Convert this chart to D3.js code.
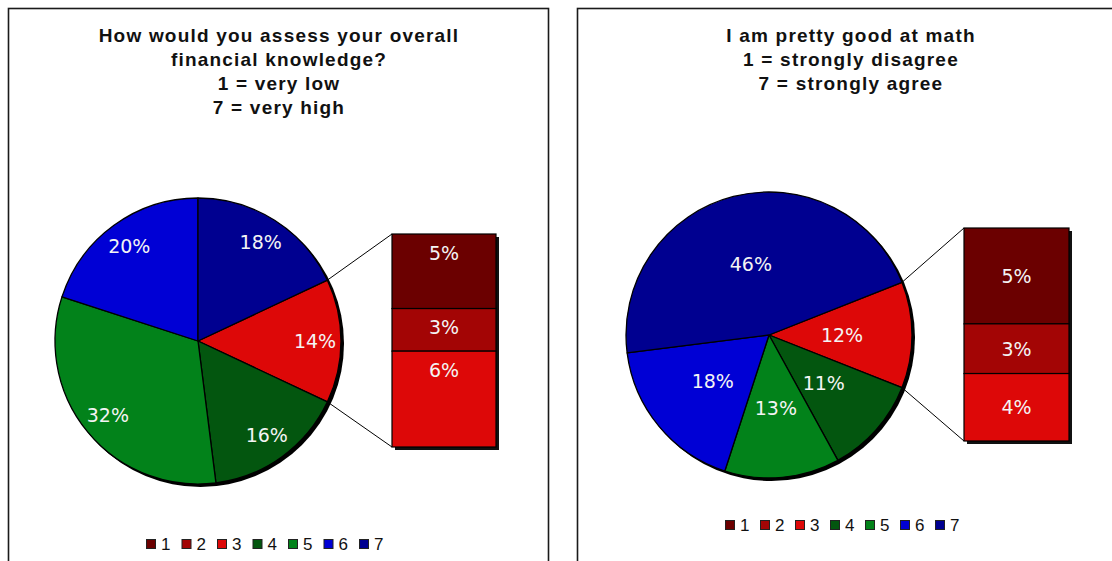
<!DOCTYPE html>
<html><head><meta charset="utf-8">
<script src="https://cdn.jsdelivr.net/npm/d3@7"></script>
<style>body{margin:0;background:#fff}svg{display:block}</style>
</head><body><svg id="c" width="1112" height="561"></svg>
<script>
// ---- data ----
const categories = ["1","2","3","4","5","6","7"];
const colors = ["#6b0000","#a30505","#dd0808","#03560f","#02821a","#0000d5","#000090"];
const knowledgeValues = [4.9, 2.8, 6.3, 16, 32, 20, 18];
const mathValues = [5.4, 2.8, 3.8, 11, 13, 18, 46];
const knowledgeTitle = ["How would you assess your overall","financial knowledge?","1 = very low","7 = very high"];
const mathTitle = ["I am pretty good at math","1 = strongly disagree","7 = strongly agree"];
const splitCount = 3; // first categories shown in the secondary stacked bar

const svg = d3.select("#c");
const fmt = v => Math.round(v) + "%";

function drawPanel(o) {
  const g = svg.append("g");
  // panel frame
  g.append("rect").attr("x", o.px).attr("y", o.py).attr("width", o.pw).attr("height", o.ph)
    .attr("fill", "#fff").attr("stroke", "#1a1a1a").attr("stroke-width", 1.6);

  // title
  g.append("g").selectAll("text").data(o.title).join("text")
    .attr("x", o.titleX).attr("y", (d, i) => o.titleY + i * 24)
    .attr("text-anchor", "middle")
    .attr("font-family", "Liberation Sans, Arial, sans-serif")
    .attr("font-weight", "bold").attr("font-size", 19).attr("letter-spacing", 1.2)
    .attr("fill", "#111").text(d => d);

  const vals = o.values;
  const otherVals = vals.slice(0, splitCount);
  const otherSum = d3.sum(otherVals);
  const pieData = [{ key: "other", value: otherSum, color: colors[splitCount - 1] }]
    .concat(vals.slice(splitCount).map((v, i) => ({ key: categories[i + splitCount], value: v, color: colors[i + splitCount] })));
  const total = d3.sum(pieData, d => d.value);
  const a0 = Math.PI / 2 - (otherSum / total) * Math.PI;
  const arcs = d3.pie().sort(null).value(d => d.value).startAngle(a0).endAngle(a0 + 2 * Math.PI)(pieData);
  const arc = d3.arc().innerRadius(0).outerRadius(o.r);

  const pg = g.append("g").attr("transform", `translate(${o.cx},${o.cy})`);
  // shadow
  pg.append("circle").attr("cx", 2.5).attr("cy", 2.5).attr("r", o.r + 0.5).attr("fill", "#000");
  pg.selectAll("path").data(arcs).join("path")
    .attr("d", arc).attr("fill", d => d.data.color)
    .attr("stroke", "#000").attr("stroke-width", 1.3).attr("stroke-linejoin", "round");
  pg.selectAll("text.pl").data(arcs).join("text").attr("class", "pl")
    .attr("x", d => Math.sin((d.startAngle + d.endAngle) / 2) * o.labelR)
    .attr("y", d => -Math.cos((d.startAngle + d.endAngle) / 2) * o.labelR)
    .attr("dy", "0.36em").attr("text-anchor", "middle")
    .attr("font-family", "DejaVu Sans, Verdana, sans-serif").attr("font-size", 19)
    .attr("fill", "#f4f4f4").text(d => fmt(d.data.value));

  // secondary stacked bar
  const y = d3.scaleLinear().domain([0, otherSum]).range([o.by0, o.by1]);
  let acc = 0;
  const segs = otherVals.map((v, i) => { const s = { v, i, y0: acc, y1: acc + v }; acc += v; return s; });
  const bg = g.append("g");
  bg.append("rect").attr("x", o.bx + 3).attr("y", y(0) + 3).attr("width", o.bw).attr("height", y(otherSum) - y(0))
    .attr("fill", "#111");
  bg.selectAll("rect.seg").data(segs).join("rect").attr("class", "seg")
    .attr("x", o.bx).attr("y", d => y(d.y0)).attr("width", o.bw).attr("height", d => y(d.y1) - y(d.y0))
    .attr("fill", d => colors[d.i]).attr("stroke", "#000").attr("stroke-width", 1.2);
  bg.selectAll("text").data(segs).join("text")
    .attr("x", o.bx + o.bw / 2)
    .attr("y", d => o.barLabelTop ? y(d.y0) + o.barLabelTop : (y(d.y0) + y(d.y1)) / 2)
    .attr("dy", "0.36em").attr("text-anchor", "middle")
    .attr("font-family", "DejaVu Sans, Verdana, sans-serif").attr("font-size", 19)
    .attr("fill", "#f4f4f4").text(d => fmt(d.v));

  // connector lines
  const oa = arcs[0];
  const edge = a => [o.cx + Math.sin(a) * o.r, o.cy - Math.cos(a) * o.r];
  const p1 = edge(oa.startAngle), p2 = edge(oa.endAngle);
  g.append("line").attr("x1", p1[0]).attr("y1", p1[1]).attr("x2", o.bx).attr("y2", y(0))
    .attr("stroke", "#000").attr("stroke-width", 1);
  g.append("line").attr("x1", p2[0]).attr("y1", p2[1]).attr("x2", o.bx).attr("y2", y(otherSum))
    .attr("stroke", "#000").attr("stroke-width", 1);

  // legend
  const lg = g.append("g").selectAll("g").data(categories).join("g")
    .attr("transform", (d, i) => `translate(${o.lx + i * o.lstep},${o.ly})`);
  lg.append("rect").attr("x", 0.5).attr("y", 0.5).attr("width", 9).attr("height", 9)
    .attr("fill", (d, i) => colors[i]).attr("stroke", "#222").attr("stroke-width", 1);
  lg.append("text").attr("x", 15).attr("y", 10.5).attr("font-family", "Liberation Sans, Arial, sans-serif")
    .attr("font-size", 17).attr("fill", "#111").text(d => d);
}

drawPanel({
  px: 8.5, py: 8.5, pw: 540, ph: 600, title: knowledgeTitle, titleX: 279, titleY: 42,
  values: knowledgeValues, cx: 198, cy: 341, r: 143, labelR: 117,
  bx: 392, bw: 104, by0: 234, by1: 447, barLabelTop: 19,
  lx: 146, lstep: 35.5, ly: 539
});
drawPanel({
  px: 577.5, py: 8.5, pw: 560, ph: 600, title: mathTitle, titleX: 851, titleY: 42,
  values: mathValues, cx: 769, cy: 335, r: 143, labelR: 73,
  bx: 964, bw: 105, by0: 228, by1: 441, barLabelTop: 0,
  lx: 725, lstep: 35, ly: 520
});
</script></body></html>
